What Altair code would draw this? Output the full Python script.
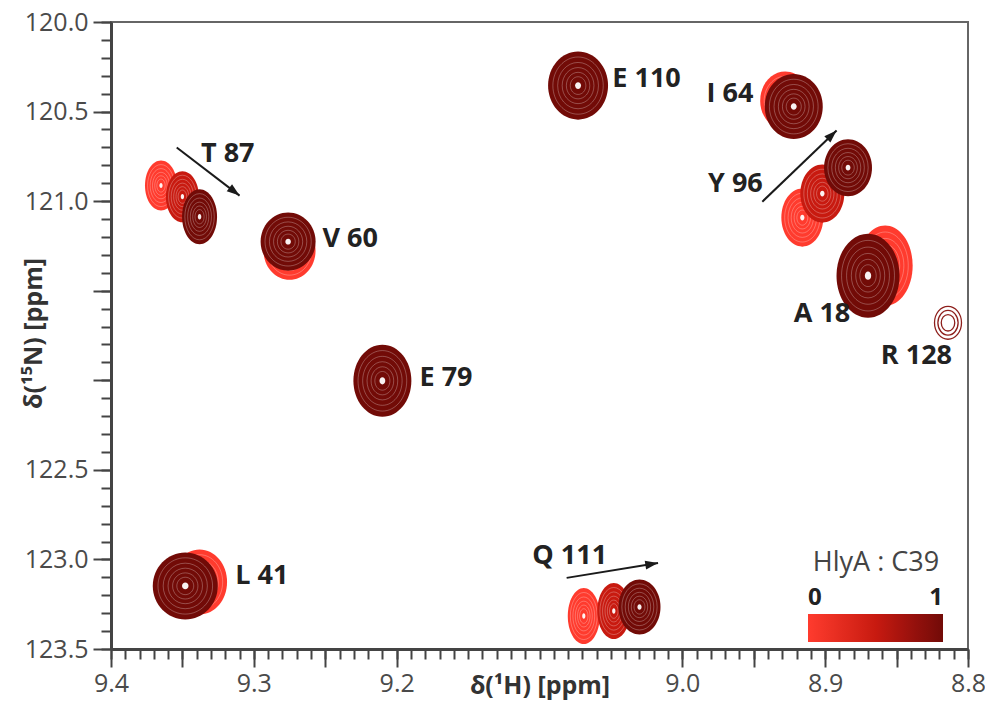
import math
import altair as alt
import pandas as pd

# ------------------------------------------------------------------ data
# Observed peaks (1H ppm, 15N ppm), HlyA:C39 ratio, peak line widths (ppm)
PEAK_RES = ["T 87", "T 87", "T 87", "V 60", "V 60", "E 110", "I 64", "I 64",
            "Y 96", "Y 96", "Y 96", "A 18", "A 18", "E 79", "L 41", "L 41",
            "Q 111", "Q 111", "Q 111"]
PEAK_H = [9.365, 9.350, 9.338, 9.275, 9.276, 9.073, 8.928, 8.922,
          8.916, 8.902, 8.884, 8.858, 8.870, 9.210, 9.338, 9.348,
          9.069, 9.048, 9.030]
PEAK_N = [120.913, 120.975, 121.087, 121.277, 121.226, 120.355, 120.439, 120.472,
          121.092, 120.958, 120.813, 121.360, 121.416, 122.003, 123.126, 123.148,
          123.316, 123.288, 123.265]
PEAK_RATIO = [0, 0.5, 1, 0, 1, 1, 0, 1,
              0, 0.5, 1, 0, 1, 1, 0, 1,
              0, 0.5, 1]
PEAK_WH = [0.0224, 0.0231, 0.0245, 0.0364, 0.0385, 0.0420, 0.0350, 0.0406,
           0.0294, 0.0308, 0.0336, 0.0385, 0.0441, 0.0406, 0.0385, 0.0455,
           0.0224, 0.0231, 0.0294]
PEAK_WN = [0.279, 0.285, 0.307, 0.324, 0.324, 0.380, 0.324, 0.363,
           0.324, 0.324, 0.318, 0.447, 0.469, 0.402, 0.363, 0.374,
           0.313, 0.313, 0.307]

# weak peak, drawn with contour lines only
WEAK_RES = ["R 128"]
WEAK_H = [8.814]
WEAK_N = [121.679]
WEAK_WH = [0.0189]
WEAK_WN = [0.184]

# residue labels (left edge / vertical centre)
LABEL_TEXT = ["T 87", "V 60", "E 110", "I 64", "Y 96", "A 18", "R 128", "E 79", "L 41", "Q 111"]
LABEL_H = [9.337, 9.252, 9.049, 8.983, 8.982, 8.922, 8.861, 9.184, 9.313, 9.105]
LABEL_N = [120.735, 121.209, 120.316, 120.400, 120.902, 121.628, 121.863, 121.986, 123.092, 122.980]

# shift arrows
ARROW_H0 = [9.354, 8.944, 9.081]
ARROW_N0 = [120.701, 121.003, 123.103]
ARROW_H1 = [9.310, 8.892, 9.017]
ARROW_N1 = [120.969, 120.606, 123.020]

# axes
X_DOMAIN = [8.8, 9.4]
Y_DOMAIN = [120.0, 123.5]
X_MINOR = [round(9.40 - 0.01 * i, 2) for i in range(61)]
Y_MINOR = [round(120.0 + 0.1 * i, 1) for i in range(36)]
X_MAJOR = [9.40, 9.35, 9.30, 9.25, 9.20, 9.00, 8.95, 8.90, 8.85, 8.80]
X_LABELS = [9.4, 9.3, 9.2, 9.0, 8.9, 8.8]
Y_MAJOR = [120.0, 120.5, 121.0, 121.5, 122.0, 122.5, 123.0, 123.5]
Y_LABELS = [120.0, 120.5, 121.0, 122.5, 123.0, 123.5]

RATIO_DOMAIN = [0, 0.5, 1]
RATIO_COLORS = ["#ff3b2e", "#c81a10", "#720b07"]

# ------------------------------------------------------------------ layout
W, H = 857, 627
PX_H = W / (X_DOMAIN[1] - X_DOMAIN[0])
PX_N = H / (Y_DOMAIN[1] - Y_DOMAIN[0])
FONT = "Open Sans"
AX_COLOR = "#444444"


def ellipse_path(rx, ry):
    k = 0.5523
    return (f"M{rx:.3f},0 C{rx:.3f},{k*ry:.3f} {k*rx:.3f},{ry:.3f} 0,{ry:.3f} "
            f"C{-k*rx:.3f},{ry:.3f} {-rx:.3f},{k*ry:.3f} {-rx:.3f},0 "
            f"C{-rx:.3f},{-k*ry:.3f} {-k*rx:.3f},{-ry:.3f} 0,{-ry:.3f} "
            f"C{k*rx:.3f},{-ry:.3f} {rx:.3f},{-k*ry:.3f} {rx:.3f},0 Z")


def peak_rows(res, hs, ns, ratios, whs, wns, levels):
    rows = []
    for r, h, n, q, wh, wn in zip(res, hs, ns, ratios, whs, wns):
        wpx, hpx = wh * PX_H, wn * PX_N
        m = max(wpx, hpx)
        shape = ellipse_path(wpx / m, hpx / m)
        for lv, s in enumerate(levels):
            rows.append({"res": r, "h": h, "n": n, "ratio": q, "level": lv,
                         "shape": shape, "size": (m * s) ** 2})
    return pd.DataFrame(rows)


def code_list(vals, mult):
    return "[" + ",".join(str(int(round(v * mult))) for v in vals) + "]"


x_label_expr = (f"indexof({code_list(X_LABELS, 100)}, round(datum.value*100)) >= 0"
                " ? format(datum.value, '.1f') : ''")
y_label_expr = (f"indexof({code_list(Y_LABELS, 10)}, round(datum.value*10)) >= 0"
                " ? format(datum.value, '.1f') : ''")

common = dict(grid=False, tickColor=AX_COLOR, tickWidth=2, domainColor=AX_COLOR,
              domainWidth=3, labelOverlap=False, labelFlush=False)

x_major_axis = alt.Axis(
    orient="bottom", values=X_MAJOR, tickSize=18, labelExpr=x_label_expr,
    labelFont=FONT, labelFontSize=25, labelColor="#4a4a4a", labelPadding=4,
    title="δ(¹H) [ppm]", titleFont=FONT, titleFontSize=25, titleFontWeight="bold",
    titleColor="#333", titleX=W / 2, titleY=44, titleAlign="center",
    titleBaseline="alphabetic", **common,
)
x_minor_axis = alt.Axis(orient="bottom", values=X_MINOR, tickSize=10, labels=False,
                        domain=False, title="", **common)
y_major_axis = alt.Axis(
    orient="left", values=Y_MAJOR, tickSize=18, labelExpr=y_label_expr,
    labelFont=FONT, labelFontSize=25, labelColor="#4a4a4a", labelPadding=5,
    title="δ(¹⁵N) [ppm]", titleFont=FONT, titleFontSize=25, titleFontWeight="bold",
    titleColor="#333", titleX=-78, titleY=311, titleAngle=270, titleAlign="center",
    titleBaseline="middle", **common,
)
y_minor_axis = alt.Axis(orient="left", values=Y_MINOR, tickSize=10, labels=False,
                        domain=False, title="", **common)

x_scale = alt.Scale(domain=X_DOMAIN, reverse=True)
y_scale = alt.Scale(domain=Y_DOMAIN, reverse=True)
x_plain = alt.X("h:Q", scale=x_scale, axis=None)
y_plain = alt.Y("n:Q", scale=y_scale, axis=None)

color_enc = alt.Color(
    "ratio:Q",
    scale=alt.Scale(domain=RATIO_DOMAIN, range=RATIO_COLORS),
    legend=alt.Legend(
        orient="none", legendX=697, legendY=528, direction="horizontal",
        gradientLength=135, gradientThickness=28, gradientStrokeWidth=0,
        values=[0, 1], format="d", labelOffset={"expr": "-56"}, labelFont=FONT,
        labelFontSize=24, labelFontWeight="bold", labelColor="#222",
        title="HlyA : C39", titleFont=FONT, titleFontSize=27,
        titleFontWeight="normal", titleColor="#444", titleAnchor="middle",
        titlePadding=37,
    ),
)

FILL_LEVEL = [1.0]
RING_LEVELS = [0.84, 0.68, 0.53, 0.39, 0.26]
CENTER_LEVEL = [0.1]

fills = peak_rows(PEAK_RES, PEAK_H, PEAK_N, PEAK_RATIO, PEAK_WH, PEAK_WN, FILL_LEVEL)
rings = peak_rows(PEAK_RES, PEAK_H, PEAK_N, PEAK_RATIO, PEAK_WH, PEAK_WN, RING_LEVELS)
centers = peak_rows(PEAK_RES, PEAK_H, PEAK_N, PEAK_RATIO, PEAK_WH, PEAK_WN, CENTER_LEVEL)
weak = peak_rows(WEAK_RES, WEAK_H, WEAK_N, [1], WEAK_WH, WEAK_WN, [1.0, 0.75, 0.5])

shape_enc = alt.Shape("shape:N", scale=None)
size_enc = alt.Size("size:Q", scale=None)

layers = []
for i, q in enumerate(RATIO_DOMAIN):
    if i == 0:
        xe = alt.X("h:Q", scale=x_scale, axis=x_major_axis)
        ye = alt.Y("n:Q", scale=y_scale, axis=y_major_axis)
    else:
        xe, ye = x_plain, y_plain
    layers.append(
        alt.Chart(fills[fills.ratio == q]).mark_point(filled=True, opacity=1, strokeWidth=0)
        .encode(x=xe, y=ye, color=color_enc, shape=shape_enc, size=size_enc)
    )
    layers.append(
        alt.Chart(rings[rings.ratio == q]).mark_point(
            filled=False, stroke="#ffffff", strokeOpacity=0.3, strokeWidth=0.9, opacity=1)
        .encode(x=x_plain, y=y_plain, shape=shape_enc, size=size_enc)
    )
    layers.append(
        alt.Chart(centers[centers.ratio == q]).mark_point(
            filled=True, fill="#ffffff", opacity=0.95, strokeWidth=0)
        .encode(x=x_plain, y=y_plain, shape=shape_enc, size=size_enc)
    )

layers.append(
    alt.Chart(weak).mark_point(filled=False, stroke="#8e1f1c", strokeWidth=1.3, opacity=1)
    .encode(x=x_plain, y=y_plain, shape=shape_enc, size=size_enc)
)

# arrows (this layer also carries the minor-tick axes)
arrows = pd.DataFrame({"h": ARROW_H0, "n": ARROW_N0, "h2": ARROW_H1, "n2": ARROW_N1})
arrows_head = pd.DataFrame({
    "h": ARROW_H1, "n": ARROW_N1,
    "angle": [math.degrees(math.atan2(-(h1 - h0) * PX_H, -(n1 - n0) * PX_N)) % 360
              for h0, n0, h1, n1 in zip(ARROW_H0, ARROW_N0, ARROW_H1, ARROW_N1)],
})
layers.append(
    alt.Chart(arrows).mark_rule(color="#1a1a1a", strokeWidth=2)
    .encode(x=alt.X("h:Q", scale=x_scale, axis=x_minor_axis),
            y=alt.Y("n:Q", scale=y_scale, axis=y_minor_axis),
            x2="h2:Q", y2="n2:Q")
)
layers.append(
    alt.Chart(arrows_head).mark_point(
        shape="M0,0 L0.55,1.6 L-0.55,1.6 Z", filled=True, color="#1a1a1a",
        size=256, opacity=1, strokeWidth=0)
    .encode(x=x_plain, y=y_plain, angle=alt.Angle("angle:Q", scale=None))
)

labels = pd.DataFrame({"h": LABEL_H, "n": LABEL_N, "text": LABEL_TEXT})
layers.append(
    alt.Chart(labels).mark_text(align="left", baseline="middle", font=FONT,
                                fontSize=27, fontWeight="bold", color="#222")
    .encode(x=x_plain, y=y_plain, text="text:N")
)

chart = (
    alt.layer(*layers)
    .resolve_axis(x="independent", y="independent")
    .properties(
        width=W, height=H,
        autosize=alt.AutoSizeParams(type="none"),
        padding={"left": 103, "top": 14, "right": 17, "bottom": 56},
        background="#ffffff",
    )
    .configure_view(stroke="#666666", strokeWidth=2)
)

chart.save("out.html", embed_options={"renderer": "svg", "actions": False})
